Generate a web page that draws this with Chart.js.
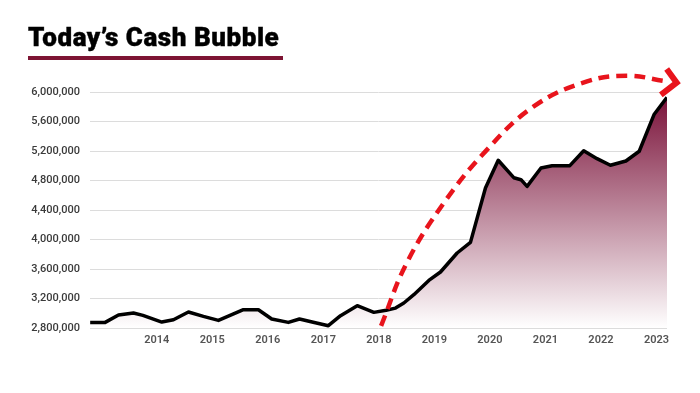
<!DOCTYPE html>
<html><head><meta charset="utf-8">
<script src="https://cdn.jsdelivr.net/npm/chart.js@4.4.0/dist/chart.umd.min.js"></script>
<style>
html,body{margin:0;padding:0;background:#fff;}
#wrap{position:relative;width:700px;height:393px;overflow:hidden;}
#title{position:absolute;left:28px;top:24px;font-family:Roboto,sans-serif;font-weight:900;font-size:26px;line-height:26px;color:#000;white-space:nowrap;letter-spacing:0.55px;-webkit-text-stroke:0.4px #000;}
#rule{position:absolute;left:28px;top:56px;width:255px;height:3.5px;background:#7d1433;}
canvas{position:absolute;left:0;top:0;}
</style></head><body>
<div id="wrap"><canvas id="c" width="700" height="393"></canvas><div id="title">Today’s Cash Bubble</div><div id="rule"></div></div>
<script>
// Cash series (decimal year, value)
const dates = [2012.80, 2013.07, 2013.31, 2013.58, 2013.75, 2014.09, 2014.30, 2014.57, 2014.84, 2015.11,
  2015.56, 2015.77, 2015.83, 2016.07, 2016.37, 2016.57, 2016.76, 2017.09, 2017.31, 2017.61,
  2017.91, 2018.13, 2018.30, 2018.45, 2018.63, 2018.90, 2019.11, 2019.41, 2019.65, 2019.92,
  2020.15, 2020.43, 2020.56, 2020.67, 2020.92, 2021.12, 2021.44, 2021.69, 2021.93, 2022.17,
  2022.45, 2022.69, 2022.96, 2023.19];
const cashValues = [2876000, 2876000, 2976000, 3003000, 2971000, 2881000, 2912000, 3017000, 2957000, 2903000,
  3048000, 3048000, 3048000, 2922000, 2876000, 2922000, 2889000, 2831000, 2967000, 3102000,
  3012000, 3040000, 3070000, 3139000, 3252000, 3445000, 3559000, 3817000, 3961000, 4698000,
  5075000, 4838000, 4811000, 4720000, 4969000, 5001000, 5001000, 5204000, 5096000, 5007000,
  5064000, 5197000, 5699000, 5927000];
// Dashed "bubble" arrow path (decimal year, value)
const arrowDates = [2018.04, 2018.50, 2019.17, 2019.92, 2020.79, 2021.75, 2022.48, 2023.15];
const arrowValues = [2830000, 3680000, 4495000, 5195000, 5805000, 6144000, 6221000, 6149000];
const xTickYears = [2014, 2015, 2016, 2017, 2018, 2019, 2020, 2021, 2022, 2023];
const yTickValues = [2800000, 3200000, 3600000, 4000000, 4400000, 4800000, 5200000, 5600000, 6000000];

const cashPoints = dates.map((d, i) => ({x: d, y: cashValues[i]}));
const arrowPoints = arrowDates.map((d, i) => ({x: d, y: arrowValues[i]}));

const arrowHead = {
  id: 'arrowHead',
  afterDatasetsDraw(chart) {
    const meta = chart.getDatasetMeta(0);
    const pts = meta.data;
    const n = pts.length;
    const p = pts[n - 1];
    let bx = p.cp1x, by = p.cp1y;
    if (bx === undefined || (Math.abs(bx - p.x) < 0.5 && Math.abs(by - p.y) < 0.5)) { bx = pts[n - 2].x; by = pts[n - 2].y; }
    const ang = Math.atan2(p.y - by, p.x - bx);
    const tx = p.x + 12 * Math.cos(ang), ty = p.y + 12 * Math.sin(ang);
    const len = 20, spread = 0.8;
    const ctx = chart.ctx;
    ctx.save();
    ctx.strokeStyle = '#e8141c';
    ctx.lineWidth = 6;
    ctx.lineJoin = 'miter';
    ctx.lineCap = 'butt';
    ctx.beginPath();
    ctx.moveTo(tx - len * Math.cos(ang - spread), ty - len * Math.sin(ang - spread));
    ctx.lineTo(tx, ty);
    ctx.lineTo(tx - len * Math.cos(ang + spread) * 0.85, ty - len * Math.sin(ang + spread) * 0.85);
    ctx.stroke();
    ctx.restore();
  }
};

new Chart(document.getElementById('c'), {
  type: 'line',
  data: {
    datasets: [
      {
        data: arrowPoints,
        borderColor: '#e8141c',
        borderWidth: 4.5,
        borderDash: [11, 7],
        pointRadius: 0,
        tension: 0.4,
        fill: false,
        clip: false,
        order: 0
      },
      {
        data: cashPoints,
        borderColor: '#000',
        borderWidth: 3.5,
        borderJoinStyle: 'round',
        pointRadius: 0,
        tension: 0,
        fill: 'start',
        order: 1,
        backgroundColor: (ctx) => {
          const ca = ctx.chart.chartArea;
          if (!ca) return 'rgba(0,0,0,0)';
          const g = ctx.chart.ctx.createLinearGradient(0, ca.top, 0, ca.bottom);
          g.addColorStop(0, 'rgb(120,14,54)');
          g.addColorStop(1, 'rgba(255,255,255,1)');
          return g;
        }
      }
    ]
  },
  options: {
    responsive: false,
    devicePixelRatio: 1,
    animation: false,
    layout: {padding: {left: 0, right: 33, top: 92, bottom: 35}},
    plugins: {legend: {display: false}, tooltip: {enabled: false}, title: {display: false}},
    scales: {
      x: {
        type: 'linear',
        min: 2012.797,
        max: 2023.19,
        afterBuildTicks: (axis) => { axis.ticks = xTickYears.map(v => ({value: v})); },
        afterFit: (axis) => { axis.height = 30; },
        grid: {display: false, drawTicks: false},
        border: {display: false},
        ticks: {
          padding: 6,
          color: '#555',
          font: {family: 'Roboto', size: 11, weight: '600'},
          maxRotation: 0,
          autoSkip: false,
          callback: (v) => String(v)
        }
      },
      y: {
        min: 2800000,
        max: 6000000,
        afterBuildTicks: (axis) => { axis.ticks = yTickValues.map(v => ({value: v})); },
        afterFit: (axis) => { axis.width = 90; },
        grid: {color: '#dcdcdc', lineWidth: 1, drawTicks: false},
        border: {display: false},
        ticks: {
          padding: 10,
          color: '#3a3a3a',
          font: {family: 'Roboto', size: 11, weight: '500'},
          callback: (v) => Number(v).toLocaleString('en-US')
        }
      }
    }
  },
  plugins: [arrowHead]
});
</script>
</body></html>
